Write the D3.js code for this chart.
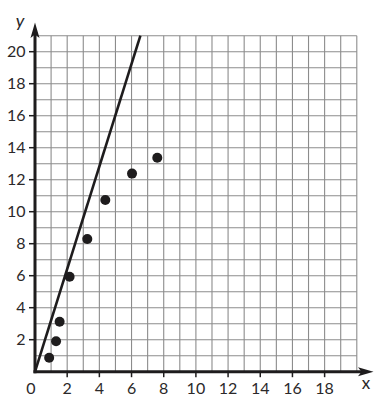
<!DOCTYPE html>
<html><head><meta charset="utf-8">
<script src="https://cdn.jsdelivr.net/npm/d3@7"></script>
<style>html,body{margin:0;padding:0;background:#fff;}svg{display:block;}</style>
</head><body>
<script>
const pointX = [0.88, 1.31, 1.53, 2.15, 3.25, 4.37, 6.03, 7.6];
const pointY = [0.87, 1.9, 3.12, 5.93, 8.29, 10.73, 12.38, 13.37];
const lineX = [0, 6.55];
const lineY = [0, 21];
const xTicks = [2, 4, 6, 8, 10, 12, 14, 16, 18];
const yTicks = [2, 4, 6, 8, 10, 12, 14, 16, 18, 20];

const W = 387, H = 405;
const svg = d3.select("body").append("svg").attr("width", W).attr("height", H);
const x = d3.scaleLinear().domain([0, 20]).range([35, 356.8]);
const y = d3.scaleLinear().domain([0, 21]).range([371.7, 35.7]);
const ink = "#1e1c1d";
const textInk = "#2b292a";
const font = "Lato, 'Open Sans', sans-serif";

// grid
const g = svg.append("g").attr("stroke", "#8c8c8c").attr("stroke-width", 1.1);
g.selectAll("line.v").data(d3.range(1, 21)).join("line")
  .attr("x1", d => x(d)).attr("x2", d => x(d)).attr("y1", y(0)).attr("y2", y(21));
g.selectAll("line.h").data(d3.range(1, 22)).join("line")
  .attr("x1", x(0)).attr("x2", x(20)).attr("y1", d => y(d)).attr("y2", d => y(d));

// axes
svg.append("line").attr("x1", x(0) - 1.5).attr("x2", 362).attr("y1", y(0)).attr("y2", y(0))
  .attr("stroke", ink).attr("stroke-width", 3);
svg.append("path").attr("d", `M373.5,${y(0)} L358,${y(0) - 4.5} L361.5,${y(0)} L358,${y(0) + 4.5} Z`).attr("fill", ink);
svg.append("line").attr("x1", x(0)).attr("x2", x(0)).attr("y1", y(0) + 1.5).attr("y2", 34)
  .attr("stroke", ink).attr("stroke-width", 3);
svg.append("path").attr("d", `M${x(0)},22.5 L${x(0) - 4.5},38 L${x(0)},34.5 L${x(0) + 4.5},38 Z`).attr("fill", ink);

// ticks
svg.selectAll("line.xt").data(xTicks).join("line")
  .attr("x1", d => x(d)).attr("x2", d => x(d)).attr("y1", y(0)).attr("y2", y(0) + 5.5)
  .attr("stroke", ink).attr("stroke-width", 1.5);
svg.selectAll("line.yt").data(yTicks).join("line")
  .attr("x1", x(0) - 6).attr("x2", x(0)).attr("y1", d => y(d)).attr("y2", d => y(d))
  .attr("stroke", ink).attr("stroke-width", 1.5);

// tick labels
svg.selectAll("text.xl").data(xTicks).join("text")
  .attr("x", d => x(d)).attr("y", 393.5).attr("text-anchor", "middle")
  .attr("font-family", font).attr("font-size", 16).attr("fill", textInk).text(d => d);
svg.append("text").attr("x", 31).attr("y", 393.5).attr("text-anchor", "middle")
  .attr("font-family", font).attr("font-size", 16).attr("fill", textInk).text("0");
svg.selectAll("text.yl").data(yTicks).join("text")
  .attr("x", 25.5).attr("y", d => y(d)).attr("dy", "0.36em").attr("text-anchor", "end")
  .attr("font-family", font).attr("font-size", 16).attr("fill", textInk).text(d => d);

// axis titles
svg.append("text").attr("x", 20).attr("y", 27).attr("text-anchor", "middle")
  .attr("font-family", font).attr("font-style", "italic").attr("font-size", 18).attr("fill", textInk).text("y");
svg.append("text").attr("x", 366).attr("y", 389).attr("text-anchor", "middle")
  .attr("font-family", font).attr("font-size", 17).attr("fill", textInk).text("x");

// line
svg.append("line").attr("x1", x(lineX[0])).attr("y1", y(lineY[0]))
  .attr("x2", x(lineX[1])).attr("y2", y(lineY[1]))
  .attr("stroke", ink).attr("stroke-width", 2.6);

// points
svg.selectAll("circle").data(pointX.map((d, i) => [d, pointY[i]])).join("circle")
  .attr("cx", d => x(d[0])).attr("cy", d => y(d[1])).attr("r", 5).attr("fill", ink);
</script>
</body></html>
